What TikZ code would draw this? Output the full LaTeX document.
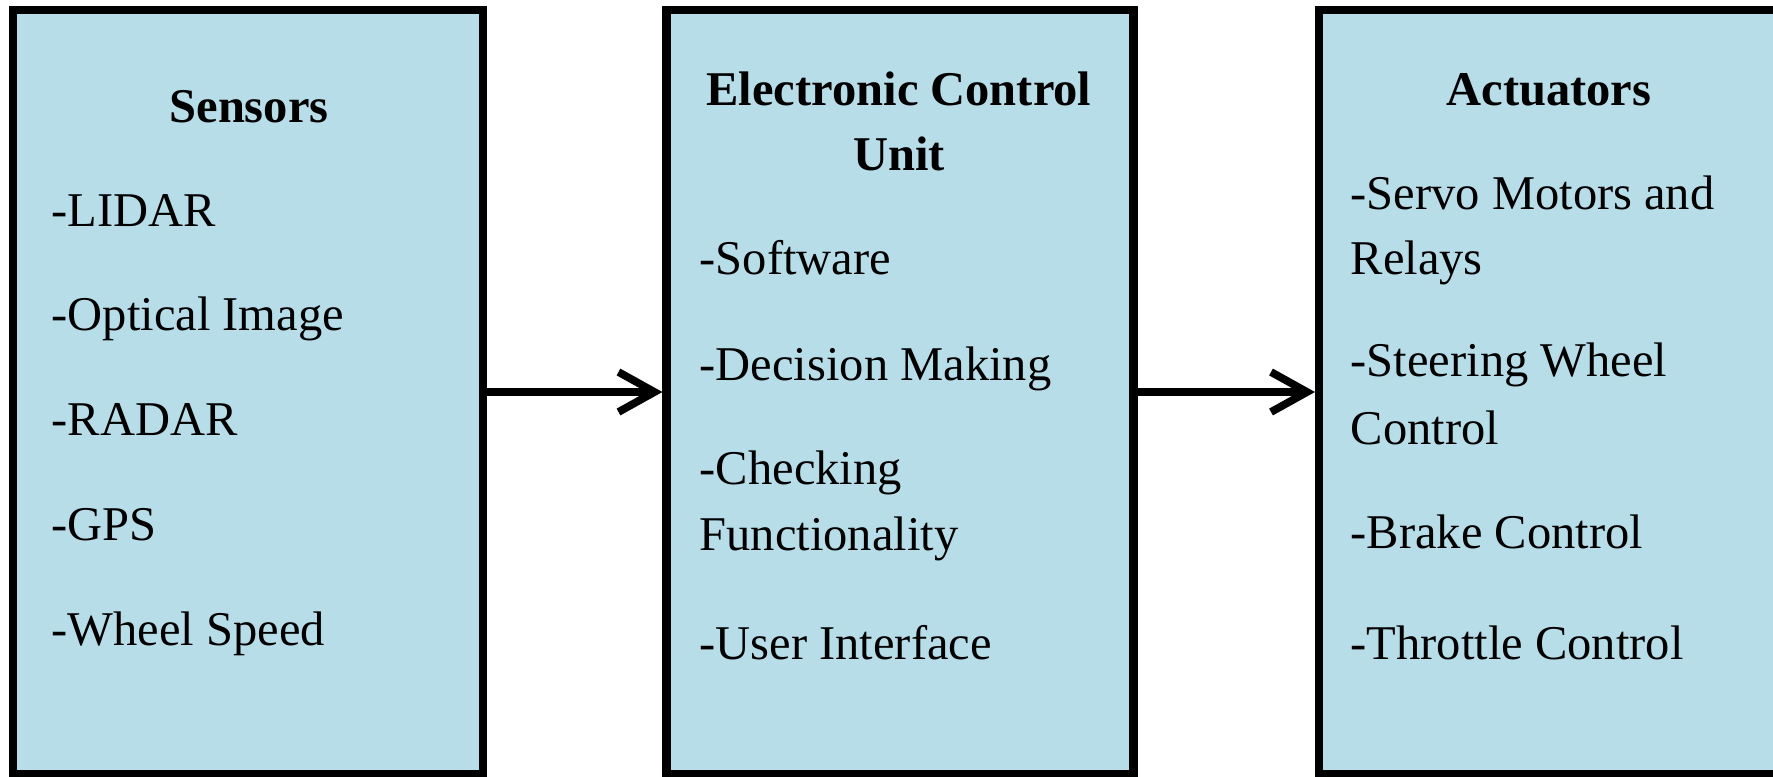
\documentclass[tikz,border=0pt]{standalone}
\usepackage{fontspec}
\setmainfont{Liberation Serif}
\usetikzlibrary{arrows.meta}
\definecolor{boxblue}{RGB}{183,221,232}
\begin{document}
\begin{tikzpicture}[block/.style={draw=black,fill=boxblue,line width=2.3pt,minimum height=7.64cm,inner sep=0pt},
    head/.style={font=\fontsize{13.8}{16}\selectfont\bfseries,anchor=base,inner sep=0pt},
    item/.style={font=\fontsize{13.8}{16}\selectfont,anchor=base west,inner sep=0pt},
    link/.style={line width=2.2pt,-{Straight Barb[length=3.6mm,width=4mm]}}]
        \useasboundingbox (0,0) rectangle (17.73,-7.76);
        % the three blocks
        \node[block,minimum width=4.70cm] (sensors) at (2.48,-3.92) {};
        \node[block,minimum width=4.67cm] (ecu) at (9.00,-3.92) {};
        \node[block,minimum width=4.76cm] (actuators) at (15.57,-3.92) {};
        % sensors
        \node[head] (senhead) at (2.49,-1.22) {Sensors};
        \foreach \t [count=\i] in {-LIDAR,-Optical Image,-RADAR,-GPS,-Wheel Speed}
            \node[item] (sen\i) at (0.51,{-2.26-1.0475*(\i-1)}) {\t};
        % control unit
        \node[head] (ecuhead) at (8.99,-1.05) {Electronic Control};
        \node[head] (ecuhead2) at (8.99,-1.70) {Unit};
        \node[item] (ecu1) at (6.99,-2.74) {-Software};
        \node[item] (ecu2) at (6.99,-3.80) {-Decision Making};
        \node[item] (ecu3) at (6.99,-4.84) {-Checking};
        \node[item] (ecu3b) at (6.99,-5.50) {Functionality};
        \node[item] (ecu4) at (6.99,-6.59) {-User Interface};
        % actuators
        \node[head] (acthead) at (15.49,-1.05) {Actuators};
        \node[item] (act1) at (13.50,-2.09) {-Servo Motors and};
        \node[item] (act1b) at (13.50,-2.74) {Relays};
        \node[item] (act2) at (13.50,-3.76) {-Steering Wheel};
        \node[item] (act2b) at (13.50,-4.44) {Control};
        \node[item] (act3) at (13.50,-5.48) {-Brake Control};
        \node[item] (act4) at (13.50,-6.59) {-Throttle Control};
        \draw[link] (sensors) -- (ecu);
        \draw[link] (ecu) -- (actuators);
    \end{tikzpicture}
\end{document}
